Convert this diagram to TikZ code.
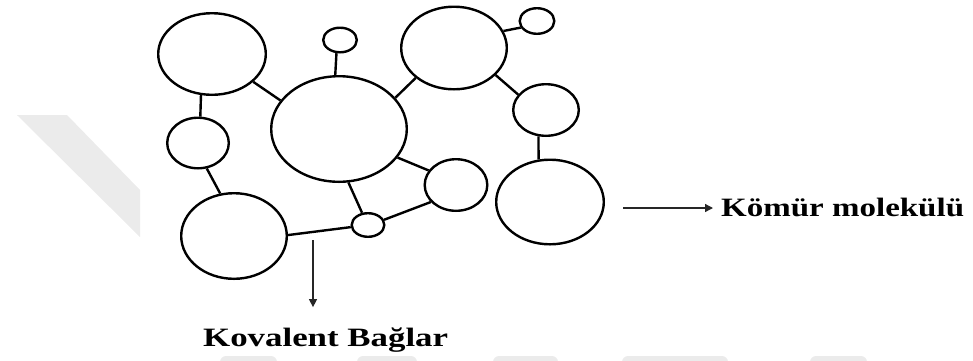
\documentclass[tikz,border=0pt]{standalone}
\usepackage{fontspec}
\usepackage{graphicx}
\setmainfont{Liberation Serif}
\usetikzlibrary{shapes.geometric,arrows.meta}

\begin{document}
\begin{tikzpicture}[x=1pt,y=-1pt,
  atom/.style={draw=black, line width=2.4pt, ellipse, inner sep=0pt},
  bond/.style={draw=black, line width=2.4pt},
  pointer/.style={draw=black!85, line width=1.3pt, -{Triangle[length=8pt,width=8pt]}},
  lbl/.style={font=\bfseries\fontsize{26.5}{30}\selectfont, inner sep=0pt},
  wmark/.style={fill=black!8, draw=none}
]
\useasboundingbox (0,0) rectangle (973,360);

% faint background emblem
\begin{scope}
  \clip (0,0) rectangle (973,360);
  \fill[wmark] (17,115) -- (67,115) -- (140,190) -- (140,237) -- cycle;
  \foreach \a/\b in {220/277, 357/417, 493/558, 622/728, 810/867}
    \fill[wmark, rounded corners=6pt] (\a,356) rectangle (\b,380);
\end{scope}

% molecule units
\node[atom, minimum width=107.6pt, minimum height=81.6pt]  (A) at (212,54)  {};
\node[atom, minimum width=61.6pt,  minimum height=50.6pt]  (B) at (198,143) {};
\node[atom, minimum width=105.6pt, minimum height=85.6pt]  (C) at (234,236) {};
\node[atom, minimum width=135.6pt, minimum height=105.6pt] (D) at (339,129) {};
\node[atom, minimum width=33.6pt,  minimum height=24.6pt]  (E) at (340,40)  {};
\node[atom, minimum width=32.6pt,  minimum height=23.6pt]  (F) at (368,225) {};
\node[atom, minimum width=62.6pt,  minimum height=51.6pt]  (G) at (456,185) {};
\node[atom, minimum width=105.6pt, minimum height=82.6pt]  (H) at (454,48)  {};
\node[atom, minimum width=34.6pt,  minimum height=25.6pt]  (I) at (537,21)  {};
\node[atom, minimum width=65.6pt,  minimum height=51.6pt]  (J) at (546,110) {};
\node[atom, minimum width=107.6pt, minimum height=84.6pt]  (K) at (550,202) {};

% covalent bonds
\draw[bond] (A.-105.6) -- (B.85.6);
\draw[bond] (A.-34)    -- (D.154.6);
\draw[bond] (B.-71.6)  -- (C.108);
\draw[bond] (C.1)      -- (F.-173);
\draw[bond] (D.94)     -- (E.-105);
\draw[bond] (D.29.7)   -- (H.-142.4);
\draw[bond] (D.-26)    -- (G.152);
\draw[bond] (D.-80.5)  -- (F.116.6);
\draw[bond] (F.18)     -- (G.-146.8);
\draw[bond] (H.19.4)   -- (I.-158);
\draw[bond] (H.-33.4)  -- (J.151);
\draw[bond] (J.-106.5) -- (K.105.6);

% labels
\node[lbl, anchor=base west] (kov) at (203,346) {\scalebox{1.315}[1]{Kovalent Bağlar}};
\node[lbl, anchor=base west] (kom) at (721,216.5) {\scalebox{1.245}[1]{Kömür molekülü}};

% pointers
\coordinate (bondpt) at (313,240);
\coordinate (molpt) at (623,208);
\draw[pointer, shorten >=20pt] (bondpt) -- (bondpt |- kov.north);
\draw[pointer, shorten >=8pt]  (molpt)  -- (molpt -| kom.west);
\end{tikzpicture}
\end{document}
